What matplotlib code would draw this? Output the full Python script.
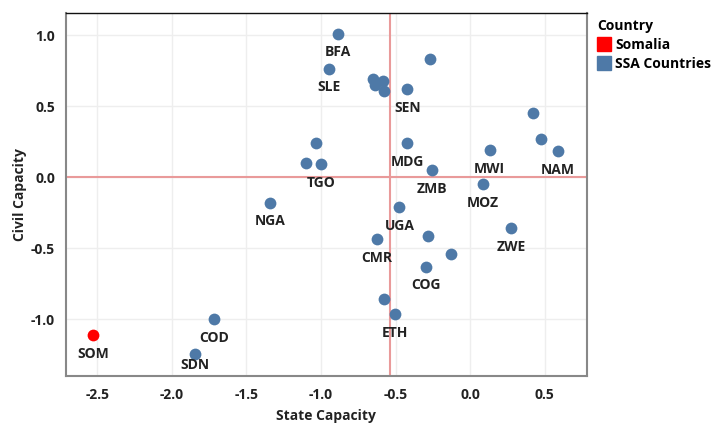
import numpy as np
import matplotlib.pyplot as plt
from matplotlib.lines import Line2D

plt.rcParams['font.family'] = ['Open Sans', 'DejaVu Sans']

# SSA countries (state capacity, civil capacity); None = unlabelled
ssa_codes = ["BFA", "SLE", None, None, "TGO", "NGA", None, None, None, None, None, "SEN",
             None, None, "NAM", "MDG", "MWI", "ZMB", "MOZ", "UGA", None, "ZWE", "CMR",
             None, "COG", None, "ETH", "COD", "SDN"]
ssa_state = [-0.884, -0.944, -1.031, -1.103, -1.002, -1.342, -0.653, -0.638, -0.582, -0.575,
             -0.271, -0.421, 0.425, 0.474, 0.588, -0.421, 0.132, -0.257, 0.089, -0.474,
             -0.282, 0.277, -0.624, -0.130, -0.298, -0.575, -0.501, -1.720, -1.843]
ssa_civil = [1.009, 0.763, 0.237, 0.101, 0.092, -0.181, 0.688, 0.648, 0.676, 0.606,
             0.829, 0.617, 0.448, 0.270, 0.185, 0.237, 0.190, 0.049, -0.052, -0.214,
             -0.413, -0.362, -0.439, -0.540, -0.631, -0.857, -0.965, -0.998, -1.246]

som_state = [-2.528]
som_civil = [-1.113]

ref_state = -0.537
ref_civil = 0.0

blue = "#4e79a7"
red = "#ff0000"

fig = plt.figure(figsize=(7.15, 4.26), dpi=100)
ax = fig.add_axes([0.0923, 0.1174, 0.7283, 0.8514])

ax.axvline(ref_state, color="#e99a9a", lw=1.5, zorder=1)
ax.axhline(ref_civil, color="#e99a9a", lw=1.5, zorder=1)

ax.scatter(ssa_state, ssa_civil, s=72, color=blue, zorder=3, linewidths=0)
ax.scatter(som_state, som_civil, s=72, color=red, zorder=3, linewidths=0)

lab_kw = dict(textcoords="offset points", ha="center", va="center",
              fontsize=10, fontweight="bold", color="#222222")
for c, xv, yv in zip(ssa_codes, ssa_state, ssa_civil):
    if c is None:
        continue
    dy = -8 if c == "SDN" else -13.5
    ax.annotate(c, (xv, yv), xytext=(0, dy), **lab_kw)
ax.annotate("SOM", (som_state[0], som_civil[0]), xytext=(0, -13.5), **lab_kw)

ax.set_xlim(-2.711, 0.783)
ax.set_ylim(-1.401, 1.153)
ax.set_xticks(np.arange(-2.5, 0.51, 0.5))
ax.set_yticks(np.arange(-1.0, 1.01, 0.5))
ax.xaxis.set_major_formatter(plt.FormatStrFormatter("%.1f"))
ax.yaxis.set_major_formatter(plt.FormatStrFormatter("%.1f"))
ax.tick_params(length=0, labelsize=10, labelcolor="#222222")
ax.tick_params(axis="x", pad=9)
ax.tick_params(axis="y", pad=8)
for t in ax.get_xticklabels() + ax.get_yticklabels():
    t.set_fontweight("bold")
ax.grid(True, color="#eeeeee", lw=1)
ax.set_axisbelow(True)

for s in ["left", "bottom", "right"]:
    ax.spines[s].set_color("#888888")
    ax.spines[s].set_linewidth(1.5)
ax.spines["top"].set_color("#111111")
ax.spines["top"].set_linewidth(1)

ax.set_xlabel("State Capacity", fontsize=10, fontweight="bold", color="#222222", labelpad=5)
ax.set_ylabel("Civil Capacity", fontsize=10, fontweight="bold", color="#222222", labelpad=3)

handles = [Line2D([], [], marker="s", ls="", color=red, markersize=10),
           Line2D([], [], marker="s", ls="", color=blue, markersize=10)]
leg = fig.legend(handles, ["Somalia", "SSA Countries"], title="Country",
                 loc="upper left", bbox_to_anchor=(0.827, 0.968), frameon=False,
                 prop={"weight": "bold", "size": 10}, handletextpad=0.3,
                 handlelength=1.0, labelspacing=0.35, borderaxespad=0)
leg.get_title().set_fontweight("bold")
leg.get_title().set_fontsize(10)
leg._legend_box.align = "left"

fig.savefig("out.png", dpi=100)
